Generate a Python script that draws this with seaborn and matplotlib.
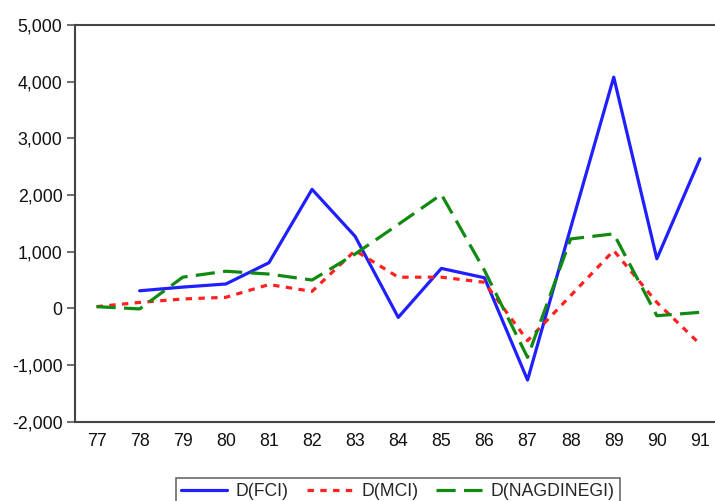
"""Differenced indices 77-91: D(FCI), D(MCI), D(NAGDINEGI)."""

import matplotlib.pyplot as plt
import numpy as np
import pandas as pd
import seaborn as sns

# ── Data ─────────────────────────────────────────────────────────────────────
YEARS = ["77", "78", "79", "80", "81", "82", "83", "84", "85", "86", "87", "88", "89", "90", "91"]
D_FCI = [np.nan, 310, 375, 430, 805, 2100, 1270, -160, 705, 540, -1265, 1420, 4080, 875, 2640]
D_MCI = [30, 105, 165, 195, 420, 300, 1020, 550, 550, 460, -570, 225, 1020, 105, -630]
D_NAGDINEGI = [30, -10, 550, 655, 605, 500, 960, 1480, 2010, 670, -865, 1225, 1315, -130, -70]

Y_TICKS = [-2000, -1000, 0, 1000, 2000, 3000, 4000, 5000]

SERIES = [
    ("D(FCI)", D_FCI, "#1f1fff", "-"),
    ("D(MCI)", D_MCI, "#ff2020", (0, (2, 2))),
    ("D(NAGDINEGI)", D_NAGDINEGI, "#108a10", (0, (6, 2.6))),
]


def main() -> None:
    sns.set_style("white")
    plt.rcParams["font.family"] = ["Liberation Sans", "DejaVu Sans"]

    fig = plt.figure(figsize=(7.15, 5.01), dpi=100)
    ax = fig.add_axes([75 / 715, 79.3 / 501, 646.5 / 715, 396.7 / 501])

    x = np.arange(len(YEARS))
    handles = []
    for name, vals, color, ls in SERIES:
        df = pd.DataFrame({"x": x, "y": vals}).dropna()
        sns.lineplot(data=df, x="x", y="y", ax=ax, color=color, linewidth=2.3,
                     linestyle=ls, label=name, legend=False)
        handles.append(ax.lines[-1])

    ax.set_xlim(-0.5, len(YEARS) - 0.5)
    ax.set_ylim(-2000, 5000)
    ax.set_yticks(Y_TICKS)
    ax.set_yticklabels([f"{v:,}" for v in Y_TICKS])
    ax.set_xticks(x)
    ax.set_xticklabels(YEARS)
    ax.set_xticks(np.arange(len(YEARS) + 1) - 0.5, minor=True)
    ax.tick_params(axis="x", which="major", length=0, pad=8, labelsize=12.8, colors="#111111")
    ax.tick_params(axis="x", which="minor", length=7, width=1.2, color="#555555", direction="out")
    ax.tick_params(axis="y", length=6, width=1.2, color="#555555", direction="out",
                   labelsize=12.8, pad=3, left=True, labelcolor="#111111")
    ax.set_xlabel("")
    ax.set_ylabel("")

    for side in ["left", "bottom", "top"]:
        ax.spines[side].set_color("#444444")
        ax.spines[side].set_linewidth(1.5)
    ax.spines["right"].set_visible(False)

    leg = fig.legend(handles=handles, labels=[s[0] for s in SERIES], ncol=3,
                     loc="upper center", bbox_to_anchor=(398 / 715, 1 - 469 / 501),
                     fontsize=12.7, frameon=True, fancybox=False, handlelength=2.6,
                     columnspacing=1.0, handletextpad=0.5, borderpad=0.3)
    leg.get_frame().set_edgecolor("#444444")
    leg.get_frame().set_linewidth(1.2)

    fig.savefig("out.png", dpi=100)
    plt.close(fig)


if __name__ == "__main__":
    main()
